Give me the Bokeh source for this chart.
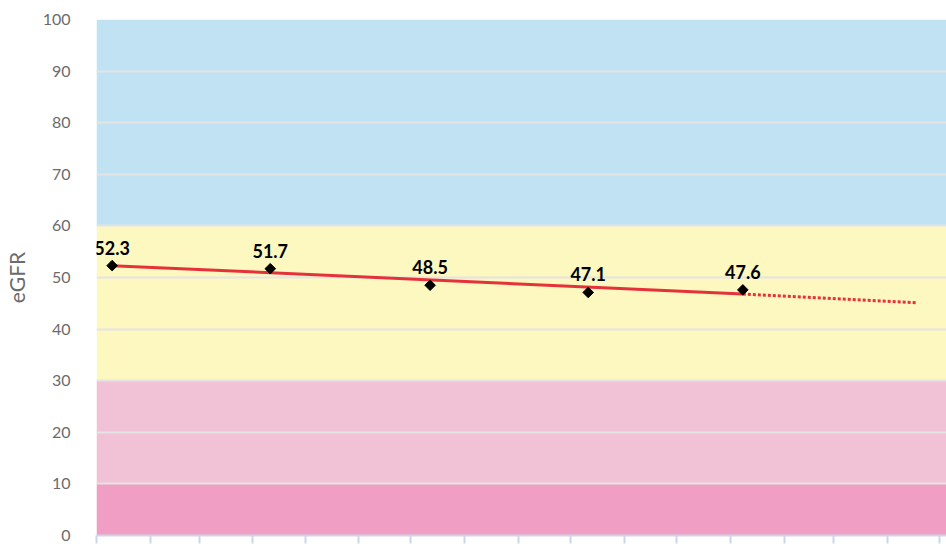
from datetime import datetime
import pandas as pd
from bokeh.plotting import figure
from bokeh.models import Range1d, MonthsTicker, ColumnDataSource, FixedTicker, CustomJSTickFormatter
from bokeh.core.properties import value
from bokeh.embed import file_html
from bokeh.resources import INLINE

# ---- data ----
visit_dates = ["2021-01-10", "2021-04-11", "2021-07-12", "2021-10-11", "2022-01-08"]
egfr_values = [52.3, 51.7, 48.5, 47.1, 47.6]
egfr_labels = ["52.3", "51.7", "48.5", "47.1", "47.6"]

trend_dates = ["2021-01-10", "2022-01-08"]
trend_values = [52.3, 46.8]
projection_dates = ["2022-01-08", "2022-04-18"]
projection_values = [46.8, 45.1]

band_bottom = [0, 10, 30, 60]
band_top = [10, 30, 60, 100]
band_colors = ["#f19ec5", "#f1c1d6", "#fdf7c0", "#c0e2f2"]

y_ticks = [0, 10, 20, 30, 40, 50, 60, 70, 80, 90, 100]

x_start = datetime(2021, 1, 1)
x_end = datetime(2022, 5, 5, 5)

# ---- figure ----
p = figure(
    x_axis_type="datetime",
    frame_width=850, frame_height=516,
    min_border_left=96, min_border_right=0, min_border_top=19, min_border_bottom=9,
    x_range=Range1d(x_start, x_end), y_range=Range1d(0, 100),
    output_backend="svg", toolbar_location=None,
)
p.outline_line_color = None
p.background_fill_color = "white"
p.border_fill_color = "white"

band_src = ColumnDataSource(dict(
    left=[x_start] * len(band_bottom), right=[x_end] * len(band_bottom),
    bottom=band_bottom, top=band_top, color=band_colors,
))
p.quad(left="left", right="right", bottom="bottom", top="top", fill_color="color",
       line_color=None, source=band_src, level="image")

# grid
p.xgrid.grid_line_color = None
p.ygrid.grid_line_color = "#e4e4e4"
p.ygrid.grid_line_width = 2

# x axis (tick marks only, no labels)
xa = p.xaxis[0]
xa.ticker = MonthsTicker(months=list(range(12)))
xa.formatter = CustomJSTickFormatter(code="return ''")
xa.major_label_standoff = 0
xa.axis_line_color = "#cdd5ea"
xa.axis_line_width = 2
xa.major_tick_line_color = "#cdd5ea"
xa.major_tick_line_width = 2
xa.major_tick_out = 8
xa.major_tick_in = 0
xa.minor_tick_line_color = None

# y axis
ya = p.yaxis[0]
ya.ticker = FixedTicker(ticks=y_ticks)
ya.axis_line_color = None
ya.major_tick_line_color = None
ya.minor_tick_line_color = None
ya.major_label_text_font = "Lato"
ya.major_label_text_font_size = "16px"
ya.major_label_text_color = "#6b6b6b"
ya.major_label_standoff = 20
ya.axis_label = "eGFR"
ya.axis_label_text_font = "Lato"
ya.axis_label_text_font_size = "21px"
ya.axis_label_text_font_style = "normal"
ya.axis_label_text_color = "#6b6b6b"
ya.axis_label_standoff = 11

# trend lines
p.line(x=pd.to_datetime(trend_dates), y=trend_values, line_color="#e5323a", line_width=3)
p.line(x=pd.to_datetime(projection_dates), y=projection_values, line_color="#e5323a",
       line_width=3, line_dash="3 2")

# points
pts = ColumnDataSource(dict(x=pd.to_datetime(visit_dates), y=egfr_values, label=egfr_labels))
p.scatter(x="x", y="y", source=pts, marker="square", angle=0.785398, size=7.5,
          fill_color="black", line_color="black")
p.text(x="x", y="y", text="label", source=pts, text_align="center",
       text_baseline="alphabetic", y_offset=-18, text_font=value("Lato"),
       text_font_style="bold", text_font_size="18px", text_color="black")

open("out.html", "w").write(file_html(p, INLINE))
